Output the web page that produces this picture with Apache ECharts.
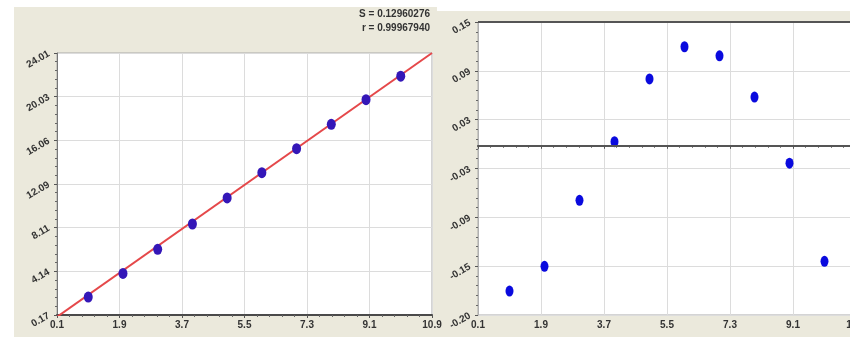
<!DOCTYPE html>
<html>
<head>
<meta charset="utf-8">
<script src="https://cdn.jsdelivr.net/npm/echarts@6/dist/echarts.min.js"></script>
<style>
  html, body { margin: 0; padding: 0; background: #fff; }
  #main { width: 850px; height: 337px; background: #ebe9dc; }
</style>
</head>
<body>
<div id="main"></div>
<script>
// x positions of the measured points
const xValues = [1, 2, 3, 4, 5, 6, 7, 8, 9, 10];
// left: measured y, right: residuals
const yValues = [1.80, 3.95, 6.15, 8.45, 10.82, 13.12, 15.30, 17.52, 19.76, 21.90];
const residuals = [-0.176, -0.146, -0.066, 0.005, 0.081, 0.120, 0.109, 0.059, -0.021, -0.140];
// fitted straight line, end points
const fitLine = [[0.1, 0.0], [10.9, 24.01]];

const xTicks = ['0.1', '1.9', '3.7', '5.5', '7.3', '9.1', '10.9'];
const yTicksLeft = ['0.17', '4.14', '8.11', '12.09', '16.06', '20.03', '24.01'];
const yTicksRight = ['-0.20', '-0.15', '-0.09', '-0.03', '0.03', '0.09', '0.15'];

const statS = 'S = 0.12960276';
const statR = 'r = 0.99967940';

function pick(labels, min, max) {
    // map a tick value back to the label text
    return function (v) {
        const i = Math.round((v - min) / (max - min) * (labels.length - 1));
        return labels[i] !== undefined ? labels[i] : '';
    };
}

const labelFont = {
    fontFamily: 'Liberation Sans',
    fontWeight: 'bold',
    fontSize: 10,
    color: '#333'
};

function xAxisFor(gridIndex) {
    return {
        type: 'value',
        gridIndex: gridIndex,
        min: 0.1,
        max: 10.9,
        interval: 1.8,
        axisLine: { show: true, lineStyle: { color: '#4a4a4a', width: 2 } },
        axisTick: { show: true, length: 3, lineStyle: { color: '#555' } },
        minorTick: { show: true, splitNumber: 5, length: 2, lineStyle: { color: '#666' } },
        splitLine: { show: true, lineStyle: { color: '#dcdcdc' } },
        axisLabel: Object.assign({ margin: 5, formatter: pick(xTicks, 0.1, 10.9) }, labelFont)
    };
}

const myChart = echarts.init(document.getElementById('main'));

const option = {
    animation: false,
    graphic: [
        { type: 'rect', shape: { x: 0, y: 0, width: 14, height: 337 }, style: { fill: '#fff' } },
        { type: 'rect', shape: { x: 0, y: 0, width: 437, height: 7 }, style: { fill: '#fff' } },
        { type: 'rect', shape: { x: 437, y: 0, width: 413, height: 11 }, style: { fill: '#fff' } },
        {
            type: 'text', right: 420, top: 9,
            style: { text: statS, font: 'bold 10px "Liberation Sans"', fill: '#333', textAlign: 'right' }
        },
        {
            type: 'text', right: 420, top: 23,
            style: { text: statR, font: 'bold 10px "Liberation Sans"', fill: '#333', textAlign: 'right' }
        }
    ],
    grid: [
        { left: 57, top: 53, width: 375, height: 262, outerBoundsMode: 'none', show: true, backgroundColor: '#fff', borderColor: '#a8a8a8', borderWidth: 1 },
        { left: 478, top: 22, width: 378, height: 293, outerBoundsMode: 'none', show: true, backgroundColor: '#fff', borderColor: '#a8a8a8', borderWidth: 1 }
    ],
    xAxis: [xAxisFor(0), xAxisFor(1)],
    yAxis: [
        {
            type: 'value',
            gridIndex: 0,
            min: 0.17,
            max: 24.01,
            interval: (24.01 - 0.17) / 6,
            axisLine: { show: true, lineStyle: { color: '#777', width: 1 } },
            axisTick: { show: true, length: 3, lineStyle: { color: '#555' } },
            minorTick: { show: true, splitNumber: 5, length: 2, lineStyle: { color: '#666' } },
            splitLine: { show: true, lineStyle: { color: '#dcdcdc' } },
            axisLabel: Object.assign({ rotate: 30, margin: 8, formatter: pick(yTicksLeft, 0.17, 24.01) }, labelFont)
        },
        {
            type: 'value',
            gridIndex: 1,
            min: -0.205,
            max: 0.15,
            interval: 0.355 / 6,
            axisLine: { show: true, lineStyle: { color: '#b0b0b0', width: 1 } },
            axisTick: { show: true, length: 3, lineStyle: { color: '#555' } },
            minorTick: { show: true, splitNumber: 5, length: 2, lineStyle: { color: '#666' } },
            splitLine: { show: true, lineStyle: { color: '#dcdcdc' } },
            axisLabel: Object.assign({ rotate: 30, margin: 8, formatter: pick(yTicksRight, -0.205, 0.15) }, labelFont)
        }
    ],
    series: [
        {
            type: 'line',
            xAxisIndex: 0,
            yAxisIndex: 0,
            data: fitLine,
            showSymbol: false,
            clip: true,
            lineStyle: { color: '#e5484a', width: 2 },
            z: 2
        },
        {
            type: 'scatter',
            xAxisIndex: 0,
            yAxisIndex: 0,
            data: xValues.map((x, i) => [x, yValues[i]]),
            symbol: 'circle',
            symbolSize: [9, 11],
            itemStyle: { color: '#3417b8', opacity: 1 },
            z: 3
        },
        {
            type: 'scatter',
            xAxisIndex: 1,
            yAxisIndex: 1,
            data: xValues.map((x, i) => [x, residuals[i]]),
            symbol: 'circle',
            symbolSize: [8, 11],
            itemStyle: { color: '#0a0ade', opacity: 1 },
            markLine: {
                silent: true,
                symbol: 'none',
                label: { show: false },
                lineStyle: { color: '#555', width: 2, type: 'solid' },
                data: [{ yAxis: 0 }, { yAxis: 0.15 }]
            },
            z: 3
        }
    ]
};

myChart.setOption(option);
</script>
</body>
</html>
